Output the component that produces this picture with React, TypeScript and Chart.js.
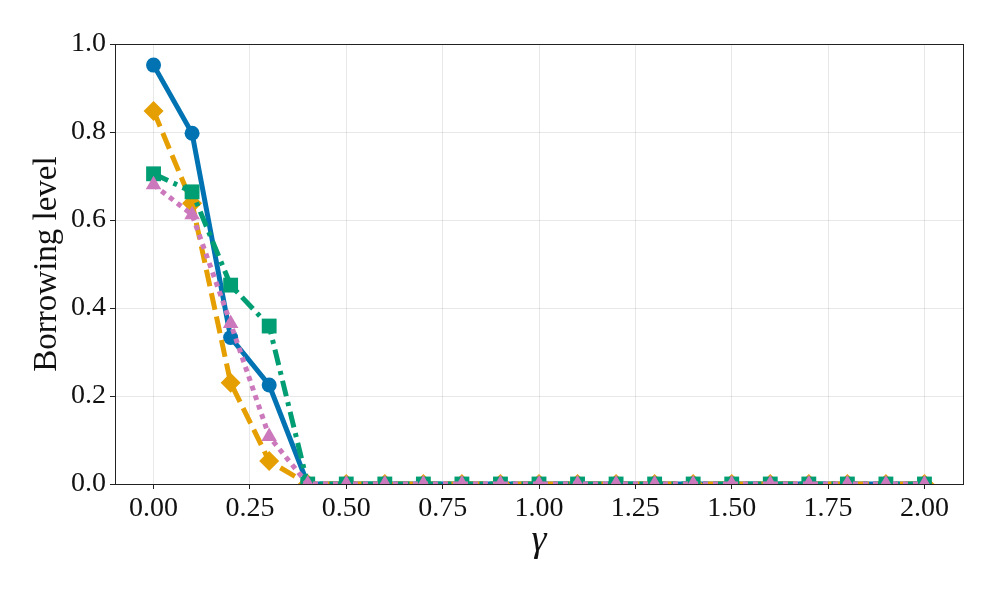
import React, { useEffect, useRef } from "react";
import { Chart, registerables } from "chart.js";

Chart.register(...registerables);

const gammaValues = [0, 0.1, 0.2, 0.3, 0.4, 0.5, 0.6, 0.7, 0.8, 0.9, 1.0, 1.1, 1.2, 1.3, 1.4, 1.5, 1.6, 1.7, 1.8, 1.9, 2.0];
const seriesBlue = [0.952, 0.797, 0.333, 0.225, 0, 0, 0, 0, 0, 0, 0, 0, 0, 0, 0, 0, 0, 0, 0, 0, 0];
const seriesOrange = [0.848, 0.638, 0.23, 0.052, 0, 0, 0, 0, 0, 0, 0, 0, 0, 0, 0, 0, 0, 0, 0, 0, 0];
const seriesGreen = [0.705, 0.664, 0.452, 0.359, 0, 0, 0, 0, 0, 0, 0, 0, 0, 0, 0, 0, 0, 0, 0, 0, 0];
const seriesPink = [0.68, 0.612, 0.365, 0.108, 0, 0, 0, 0, 0, 0, 0, 0, 0, 0, 0, 0, 0, 0, 0, 0, 0];
const xTickValues = [0, 0.25, 0.5, 0.75, 1.0, 1.25, 1.5, 1.75, 2.0];
const yTickValues = [0, 0.2, 0.4, 0.6, 0.8, 1.0];

const FONT = "'Liberation Serif', 'Times New Roman', serif";

const framePlugin = {
  id: "frame",
  afterDraw(chart: any) {
    const { ctx, chartArea } = chart;
    ctx.save();
    ctx.strokeStyle = "#222222";
    ctx.lineWidth = 1;
    ctx.strokeRect(
      Math.round(chartArea.left) + 0.5,
      Math.round(chartArea.top) + 0.5,
      Math.round(chartArea.right - chartArea.left),
      Math.round(chartArea.bottom - chartArea.top)
    );
    ctx.restore();
  },
};

function toPoints(ys: number[]) {
  return ys.map((y, i) => ({ x: gammaValues[i], y }));
}

export default function App() {
  const canvasRef = useRef<HTMLCanvasElement | null>(null);

  useEffect(() => {
    document.body.style.margin = "0";
    const canvas = canvasRef.current;
    if (!canvas) return;
    const chart = new Chart(canvas, {
      type: "line",
      data: {
        datasets: [
          {
            label: "blue",
            data: toPoints(seriesBlue),
            borderColor: "#0173b2",
            backgroundColor: "#0173b2",
            borderWidth: 5,
            pointStyle: "circle",
            pointRadius: 7.5,
            pointBorderWidth: 0,
            order: 4,
          },
          {
            label: "orange",
            data: toPoints(seriesOrange),
            borderColor: "#e69f00",
            backgroundColor: "#e69f00",
            borderWidth: 5,
            borderDash: [17, 7],
            pointStyle: "rectRot",
            pointRadius: 10,
            pointBorderWidth: 0,
            order: 3,
          },
          {
            label: "green",
            data: toPoints(seriesGreen),
            borderColor: "#029e73",
            backgroundColor: "#029e73",
            borderWidth: 5,
            borderDash: [16, 6, 4, 6],
            pointStyle: "rect",
            pointRadius: 10.5,
            pointBorderWidth: 0,
            order: 2,
          },
          {
            label: "pink",
            data: toPoints(seriesPink),
            borderColor: "#cc78bc",
            backgroundColor: "#cc78bc",
            borderWidth: 5,
            borderDash: [5, 5],
            pointStyle: "triangle",
            pointRadius: 9,
            pointBorderWidth: 0,
            order: 1,
          },
        ],
      },
      options: {
        animation: false,
        responsive: false,
        maintainAspectRatio: false,
        layout: { padding: { top: 44, right: 33, left: 0, bottom: 0 } },
        plugins: {
          legend: { display: false },
          tooltip: { enabled: false },
        },
        elements: { line: { tension: 0, borderCapStyle: "butt" } },
        scales: {
          x: {
            type: "linear",
            min: -0.1,
            max: 2.1,
            afterBuildTicks: (scale: any) => {
              scale.ticks = xTickValues.map((v) => ({ value: v }));
            },
            afterFit: (scale: any) => {
              scale.height = 106;
            },
            grid: {
              color: "rgba(0,0,0,0.09)",
              lineWidth: 1,
              drawTicks: true,
              tickLength: 5,
              tickColor: "#222222",
            },
            border: { display: false },
            ticks: {
              color: "#111111",
              font: { family: FONT, size: 28 },
              padding: 3,
              maxRotation: 0,
              callback: (v: any) => Number(v).toFixed(2),
            },
            title: {
              display: true,
              text: "γ",
              color: "#111111",
              font: { family: FONT, size: 38, style: "italic" },
              padding: { top: 0, bottom: 26 },
            },
          },
          y: {
            type: "linear",
            min: 0,
            max: 1,
            afterBuildTicks: (scale: any) => {
              scale.ticks = yTickValues.map((v) => ({ value: v }));
            },
            afterFit: (scale: any) => {
              scale.width = 115;
            },
            grid: {
              color: "rgba(0,0,0,0.09)",
              lineWidth: 1,
              drawTicks: true,
              tickLength: 5,
              tickColor: "#222222",
            },
            border: { display: false },
            ticks: {
              color: "#111111",
              font: { family: FONT, size: 28 },
              padding: 4,
              callback: (v: any) => Number(v).toFixed(1),
            },
            title: {
              display: true,
              text: "Borrowing level",
              color: "#111111",
              font: { family: FONT, size: 33 },
              padding: { top: 28, bottom: 0 },
            },
          },
        },
      },
      plugins: [framePlugin],
    } as any);
    return () => chart.destroy();
  }, []);

  return (
    <div style={{ position: "absolute", left: 0, top: 0, width: 996, height: 590, background: "#ffffff" }}>
      <canvas ref={canvasRef} width={996} height={590} style={{ width: 996, height: 590 }} />
    </div>
  );
}
